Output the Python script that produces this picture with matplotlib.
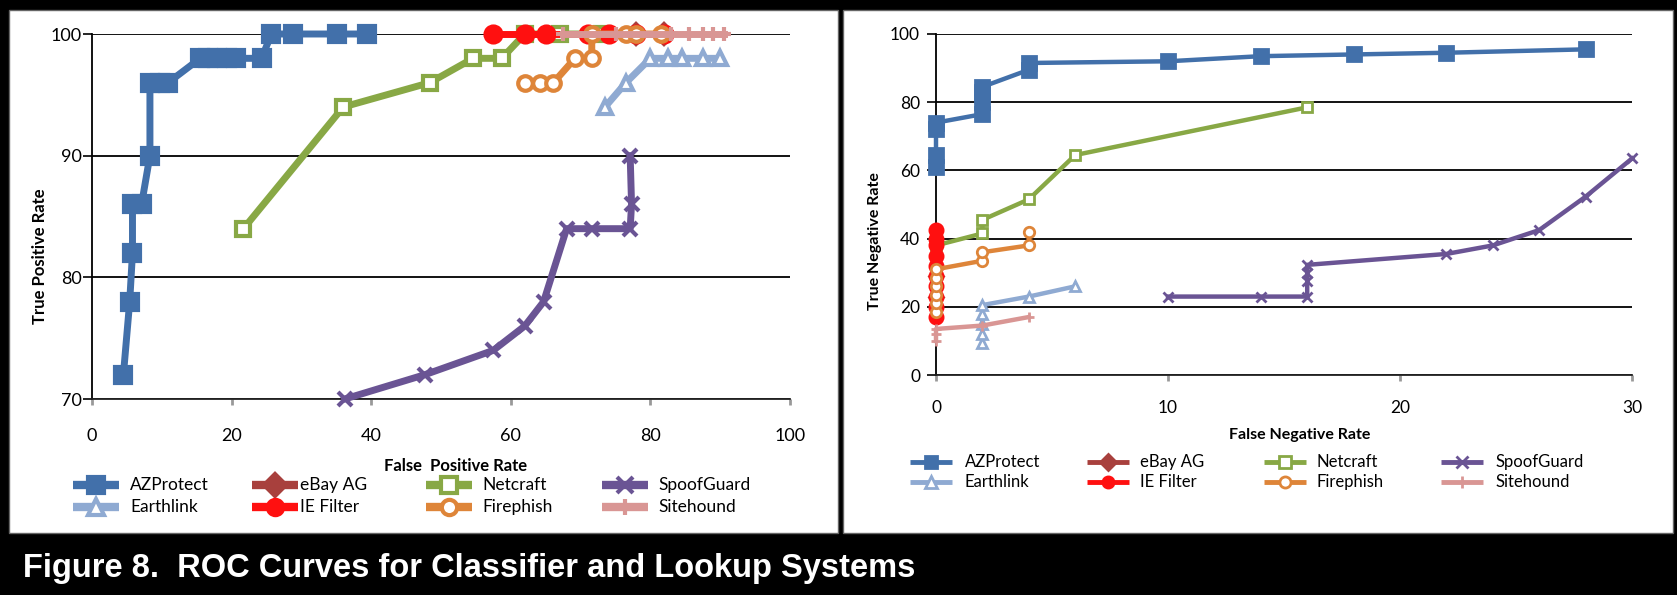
import matplotlib
matplotlib.use('Agg')
import matplotlib.pyplot as plt
from matplotlib.lines import Line2D
from matplotlib.patches import Rectangle

plt.rcParams['font.family'] = ['Lato', 'DejaVu Sans']

# ---- data : left chart (false positive rate / true positive rate)
az_fpr = [4.5, 5.4, 5.8, 5.8, 7.1, 8.3, 8.3, 9.7, 10.9, 15.5, 16.6, 17.9, 19.3, 20.7, 24.3, 25.7, 28.8, 35.1, 39.4]
az_tpr = [72, 78, 82, 86, 86, 90, 96, 96, 96, 98, 98, 98, 98, 98, 98, 100, 100, 100, 100]
earth_fpr = [73.5, 76.5, 80, 82.5, 84.5, 87.5, 90]
earth_tpr = [94, 96, 98, 98, 98, 98, 98]
ebay_fpr = [78, 82]
ebay_tpr = [100, 100]
ie_fpr = [57.5, 62, 65, 71, 74, 78, 82]
ie_tpr = [100, 100, 100, 100, 100, 100, 100]
net_fpr = [21.7, 36, 48.4, 54.6, 58.7, 62, 67, 73]
net_tpr = [84, 94, 96, 98, 98, 100, 100, 100]
fire_fpr = [62, 64.2, 66.1, 69.2, 71.6, 71.6, 76.5, 78, 81.5]
fire_tpr = [96, 96, 96, 98, 98, 100, 100, 100, 100]
spoof_fpr = [36.2, 47.7, 57.5, 62, 64.7, 68, 71.6, 77.1, 77.3, 77.1]
spoof_tpr = [70, 72, 74, 76, 78, 84, 84, 84, 86, 90]
site_fpr = [67.5, 75, 83, 85.5, 87.5, 89, 90.5]
site_tpr = [100, 100, 100, 100, 100, 100, 100]

# ---- data : right chart (false negative rate / true negative rate)
az_fnr = [0, 0, 0, 0, 2, 2, 2, 2, 4, 4, 10, 14, 18, 22, 28]
az_tnr = [61, 64.5, 72, 74, 76.5, 80, 83, 84.5, 89.5, 91.5, 92, 93.5, 94, 94.5, 95.5]
earth_fnr = [2, 2, 2, 2, 2, 4, 6]
earth_tnr = [9.5, 12, 15, 18, 20.5, 23, 26]
ebay_fnr = [0, 0]
ebay_tnr = [23, 29]
ie_fnr = [0, 0, 0, 0, 0, 0, 0, 0, 0, 0]
ie_tnr = [17, 20, 23, 26, 29, 32, 35, 38, 40, 42.5]
net_fnr = [0, 2, 2, 4, 6, 16]
net_tnr = [38, 41.5, 45.5, 51.5, 64.5, 78.5]
fire_fnr = [0, 0, 0, 0, 0, 0, 2, 2, 4, 4]
fire_tnr = [18.5, 21, 23.5, 26, 28.5, 31, 33.5, 36, 38, 42]
spoof_fnr = [10, 14, 16, 16, 16, 16, 22, 24, 26, 28, 30]
spoof_tnr = [23, 23, 23, 27.5, 30, 32.3, 35.5, 38, 42.5, 52.3, 63.5]
site_fnr = [0, 0, 0, 2, 4]
site_tnr = [10, 12, 13.5, 14.5, 17]

names = ['AZProtect', 'Earthlink', 'eBay AG', 'IE Filter', 'Netcraft', 'Firephish', 'SpoofGuard', 'Sitehound']
left_data = [(az_fpr, az_tpr), (earth_fpr, earth_tpr), (ebay_fpr, ebay_tpr), (ie_fpr, ie_tpr),
             (net_fpr, net_tpr), (fire_fpr, fire_tpr), (spoof_fpr, spoof_tpr), (site_fpr, site_tpr)]
right_data = [(az_fnr, az_tnr), (earth_fnr, earth_tnr), (ebay_fnr, ebay_tnr), (ie_fnr, ie_tnr),
              (net_fnr, net_tnr), (fire_fnr, fire_tnr), (spoof_fnr, spoof_tnr), (site_fnr, site_tnr)]

colors = ['#4270AA', '#8FAAD2', '#A8403D', '#FF1010', '#88A845', '#DE8539', '#6A5494', '#D99694']
markers = ['s', '^', 'D', 'o', 's', 'o', 'x', '+']
hollow = [False, True, False, False, True, True, False, False]
# stacking order (red IE Filter sits over Netcraft in the crowded top band)
zorders = [3, 4, 5, 7, 6, 8, 9, 10]

W, H = 1677, 595
def fx(px):
    return px / W
def fy(py):
    return 1 - py / H

fig = plt.figure(figsize=(W / 100, H / 100), dpi=100, facecolor='black')

# white panels
for x0, x1 in [(9, 838), (843, 1673)]:
    fig.add_artist(Rectangle((fx(x0), fy(533)), fx(x1) - fx(x0), fy(10) - fy(533),
                             transform=fig.transFigure, facecolor='white',
                             edgecolor='#666666', lw=1, zorder=0))


def style_axes(ax, xticks, yticks, xpad):
    ax.set_facecolor('none')
    ax.set_xticks(xticks)
    ax.set_yticks(yticks)
    for s in ['top', 'right']:
        ax.spines[s].set_visible(False)
    ax.spines['left'].set_color('black')
    ax.spines['left'].set_linewidth(1.3)
    ax.spines['bottom'].set_color('#222222')
    ax.spines['bottom'].set_linewidth(1.3)
    ax.yaxis.grid(True, color='black', lw=1.3)
    ax.set_axisbelow(True)
    ax.tick_params(axis='y', length=6.5, width=1.2, color='black', labelsize=13)
    ax.tick_params(axis='x', length=4, width=2, color='#999999', pad=xpad, labelsize=13)


def draw_series(ax, data, lw, ms, mew, big_az):
    for i, (xs, ys) in enumerate(data):
        size = ms + (big_az if i in (0, 3) else 0)
        face = 'white' if hollow[i] else colors[i]
        ax.plot(xs, ys, color=colors[i], lw=lw, marker=markers[i], ms=size,
                mfc=face, mec=colors[i], mew=mew, clip_on=False, zorder=zorders[i])


# ---- left chart
ax1 = fig.add_axes([fx(92), fy(399), fx(790) - fx(92), fy(34) - fy(399)])
ax1.set_xlim(0, 100)
ax1.set_ylim(70, 100)
style_axes(ax1, [0, 20, 40, 60, 80, 100], [70, 80, 90, 100], 17)
ax1.tick_params(axis='y', pad=1)
draw_series(ax1, left_data, 5, 10.5, 3, 1)

# ---- right chart
ax2 = fig.add_axes([fx(936), fy(375), fx(1632) - fx(936), fy(34) - fy(375)])
ax2.set_xlim(0, 30)
ax2.set_ylim(0, 100)
style_axes(ax2, [0, 10, 20, 30], [0, 20, 40, 60, 80, 100], 14)
ax2.tick_params(axis='y', pad=5, labelsize=12.5)
ax2.tick_params(axis='x', labelsize=12.5)
draw_series(ax2, right_data, 3.2, 7.5, 2, 2)

# axis titles
fig.text(fx(40), fy(256), 'True Positive Rate', rotation=90, ha='center', va='center',
         fontsize=12, fontweight='bold')
fig.text(fx(456), fy(466), 'False  Positive Rate', ha='center', va='center',
         fontsize=12, fontweight='bold')
fig.text(fx(875), fy(241), 'True Negative Rate', rotation=90, ha='center', va='center',
         fontsize=11.5, fontweight='bold')
fig.text(fx(1300), fy(435), 'False Negative Rate', ha='center', va='center',
         fontsize=11.5, fontweight='bold')


# legends (2 rows x 4 columns, same layout as the spreadsheet)
def legend(handle_x, text_x, rows, hlen, lw, ms, mew, fs):
    for i, name in enumerate(names):
        col, row = i // 2, i % 2
        y = fy(rows[row])
        x0 = handle_x[col]
        fig.add_artist(Line2D([fx(x0), fx(x0 + hlen)], [y, y], transform=fig.transFigure,
                              color=colors[i], lw=lw, solid_capstyle='butt'))
        face = 'white' if hollow[i] else colors[i]
        fig.add_artist(Line2D([fx(x0 + hlen / 2)], [y], transform=fig.transFigure,
                              marker=markers[i], ms=ms, mfc=face, mec=colors[i], mew=mew))
        fig.text(fx(text_x[col]), y, name, va='center', ha='left', fontsize=fs)


legend([73, 252, 426, 602], [130, 300, 482, 658], [485, 507], 46, 6, 11, 3, 12.5)
legend([910, 1087, 1264, 1441], [965, 1140, 1317, 1496], [462, 482], 42, 3.5, 8, 2, 12)

# caption
fig.text(fx(23), fy(568), 'Figure 8.  ROC Curves for Classifier and Lookup Systems',
         color='white', fontsize=23.5, fontweight='bold', family='Liberation Sans',
         ha='left', va='center')

fig.savefig('out.png', dpi=100, facecolor='black')
